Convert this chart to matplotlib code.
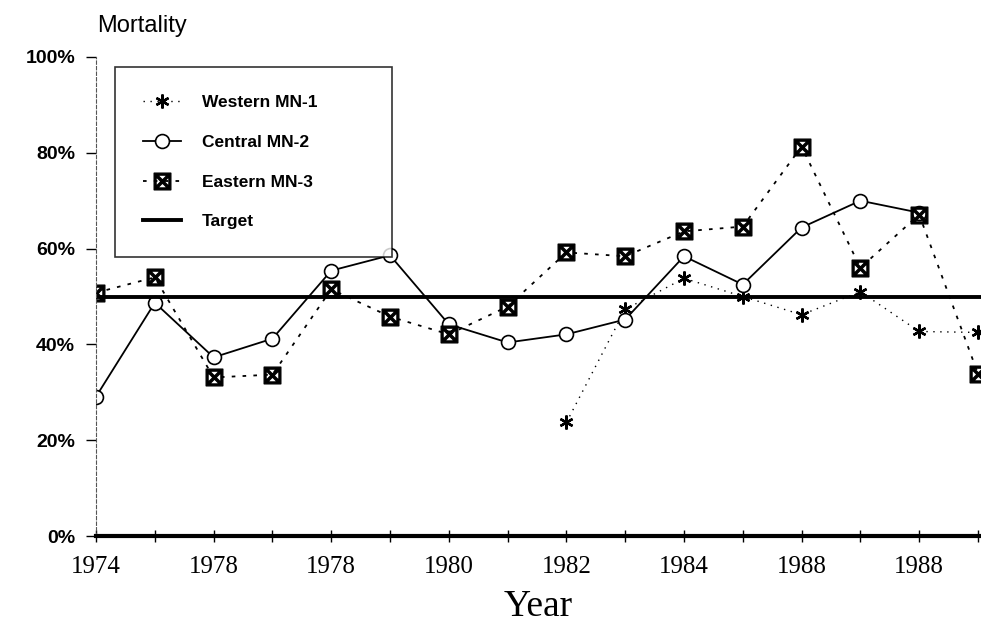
import matplotlib

matplotlib.use("Agg")
import matplotlib.pyplot as plt
import numpy as np

# year slots 1974..1989, labelled every second slot (labels as printed)
n_years = 16
tick_labels = ["1974", "1978", "1978", "1980", "1982", "1984", "1988", "1988"]

nan = np.nan
western = [nan, nan, nan, nan, nan, nan, nan, nan,
           23.7, 47.3, 53.8, 50.0, 46.2, 51.0, 42.7, 42.5]
central = [29.1, 48.7, 37.3, 41.2, 55.4, 58.6, 44.2, 40.4,
           42.1, 45.2, 58.4, 52.5, 64.4, 70.0, 67.5, nan]
eastern = [50.8, 54.0, 33.1, 33.7, 51.5, 45.8, 42.1, 47.9,
           59.2, 58.4, 63.6, 64.6, 81.3, 56.0, 67.1, 33.9]
target = 50.0

x = np.arange(n_years)

fig = plt.figure(figsize=(9.81, 6.27), dpi=100)
ax = fig.add_axes([0.0979, 0.1451, 0.902, 0.764])

ax.plot(x, western, color="black", lw=1.0, ls=(0, (1, 4)),
        marker=(6, 2, 0), ms=10, mew=1.7, label="Western MN-1")
ax.plot(x, central, color="black", lw=1.3, ls="-",
        marker="o", ms=10, mfc="white", mew=1.2, label="Central MN-2")
ax.plot(x, eastern, color="black", lw=1.3, ls=(0, (2, 4)),
        marker=r"$\boxtimes$", ms=12, label="Eastern MN-3")
ax.axhline(target, color="black", lw=2.8, label="Target")

ax.set_xlim(0, 15.05)
ax.set_ylim(0, 100)

ax.set_xticks(x[::2])
ax.set_xticklabels(tick_labels, family="Liberation Serif", fontsize=18)
ax.set_xticks(x, minor=True)
ax.tick_params(axis="x", which="both", direction="inout", length=9, width=1, pad=10)

yt = [0, 20, 40, 60, 80, 100]
ax.set_yticks(yt)
ax.set_yticklabels([f"{v}%" for v in yt], family="Liberation Sans",
                   fontweight="bold", fontsize=14)
ax.tick_params(axis="y", direction="out", length=7, width=1, pad=8)

for side in ("top", "right"):
    ax.spines[side].set_visible(False)
ax.spines["bottom"].set_linewidth(3)
ax.spines["left"].set_linewidth(0.8)
ax.spines["left"].set_linestyle((0, (3, 2)))
ax.spines["left"].set_color("#555555")

ax.set_xlabel("Year", family="Liberation Serif", fontsize=27, labelpad=8)

fig.text(0.099, 0.958, "Mortality", family="Liberation Sans", fontsize=17,
         ha="left", va="center")

leg = ax.legend(loc="upper left", bbox_to_anchor=(0.0215, 0.6, 0.313, 0.379),
                mode="expand", frameon=True, fancybox=False, edgecolor="black",
                borderpad=1.6, labelspacing=1.42, handlelength=2.2,
                handletextpad=1.2, borderaxespad=0,
                prop={"family": "Liberation Sans", "weight": "bold", "size": 12.5})
leg.get_frame().set_linewidth(1.2)

fig.savefig("out.png", dpi=100)
